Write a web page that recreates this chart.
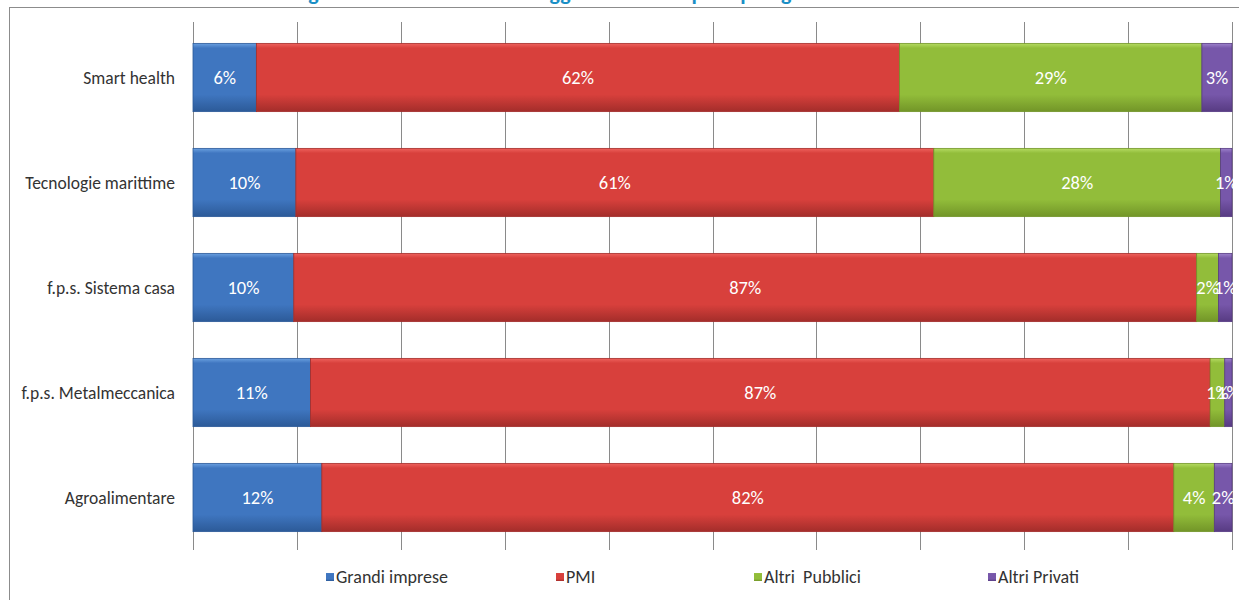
<!DOCTYPE html>
<html>
<head>
<meta charset="utf-8">
<script src="https://cdn.jsdelivr.net/npm/d3@7"></script>
<style>
  body { margin: 0; background: #fff; }
  svg { display: block; font-family: Carlito, "Open Sans", sans-serif; }
</style>
</head>
<body>
<div id="chart"></div>
<script>
// categories, top to bottom
const categories = [
  "Smart health",
  "Tecnologie marittime",
  "f.p.s. Sistema casa",
  "f.p.s. Metalmeccanica",
  "Agroalimentare",
];
const seriesNames = ["Grandi imprese", "PMI", "Altri  Pubblici", "Altri Privati"];
// shares in percent
const grandiImprese = [6.1, 9.9, 9.7, 11.3, 12.4];
const pmi = [61.9, 61.4, 86.9, 86.6, 82.0];
const altriPubblici = [29.1, 27.6, 2.1, 1.4, 3.9];
const altriPrivati = [2.9, 1.1, 1.3, 0.7, 1.7];
const xTicks = [0, 10, 20, 30, 40, 50, 60, 70, 80, 90, 100];

const colors = [
  ["#6aa0e0", "#3f76c0", "#2c5a98"],
  ["#ee625d", "#d8403c", "#a32d2a"],
  ["#b5db62", "#92bd3a", "#729528"],
  ["#9d82cc", "#7757aa", "#573b82"],
];

const width = 1239;
const height = 600;
const margin = { top: 25, right: 7, bottom: 50, left: 193 };

const rows = categories.map((c, i) => ({
  name: c,
  values: [grandiImprese[i], pmi[i], altriPubblici[i], altriPrivati[i]],
}));

const svg = d3
  .select("#chart")
  .append("svg")
  .attr("width", width)
  .attr("height", height)
  .attr("viewBox", [0, 0, width, height]);

// bevel-like gradients
const defs = svg.append("defs");
colors.forEach((c, i) => {
  const g = defs
    .append("linearGradient")
    .attr("id", "grad" + i)
    .attr("x1", 0).attr("y1", 0).attr("x2", 0).attr("y2", 1);
  g.append("stop").attr("offset", "0%").attr("stop-color", c[0]);
  g.append("stop").attr("offset", "7%").attr("stop-color", c[1]);
  g.append("stop").attr("offset", "75%").attr("stop-color", c[1]);
  g.append("stop").attr("offset", "100%").attr("stop-color", c[2]);
});

// title (cut off at the top in the original)
svg
  .append("text")
  .attr("x", 618)
  .attr("y", 0)
  .attr("text-anchor", "middle")
  .attr("fill", "#1a8fc6")
  .attr("font-weight", "bold")
  .attr("font-size", 22)
  .text("Figura 3.5 – Distribuzione soggetti ammessi per tipologia di beneficiario");

// outer frame
svg
  .append("rect")
  .attr("x", 9.5)
  .attr("y", 7.5)
  .attr("width", width)
  .attr("height", height)
  .attr("fill", "none")
  .attr("stroke", "#8c8c8c");

const x = d3
  .scaleLinear()
  .domain([0, 100])
  .range([margin.left, width - margin.right]);

const y = d3
  .scaleBand()
  .domain(categories)
  .range([margin.top, height - margin.bottom])
  .paddingInner(0.35)
  .paddingOuter(0.175);

// gridlines
svg
  .append("g")
  .selectAll("line")
  .data(xTicks)
  .join("line")
  .attr("x1", (d) => Math.round(x(d)) + 0.5)
  .attr("x2", (d) => Math.round(x(d)) + 0.5)
  .attr("y1", margin.top - 3)
  .attr("y2", height - margin.bottom)
  .attr("stroke", "#8a8a8a")
  .attr("stroke-width", 1);

// category labels
svg
  .append("g")
  .selectAll("text")
  .data(categories)
  .join("text")
  .attr("x", margin.left - 18)
  .attr("y", (d) => y(d) + y.bandwidth() / 2)
  .attr("dy", "0.35em")
  .attr("text-anchor", "end")
  .attr("font-size", 17.5)
  .attr("fill", "#333")
  .text((d) => d);

// stacked segments
const segs = [];
rows.forEach((r) => {
  let acc = 0;
  r.values.forEach((v, k) => {
    segs.push({ cat: r.name, k, x0: acc, x1: acc + v, v });
    acc += v;
  });
});

const bars = svg.append("g");
bars
  .selectAll("rect")
  .data(segs)
  .join("rect")
  .attr("x", (d) => x(d.x0))
  .attr("y", (d) => y(d.cat))
  .attr("width", (d) => x(d.x1) - x(d.x0))
  .attr("height", y.bandwidth())
  .attr("fill", (d) => `url(#grad${d.k})`)
  .attr("stroke", (d) => colors[d.k][2])
  .attr("stroke-width", 0.8);

bars
  .selectAll("text")
  .data(segs)
  .join("text")
  .attr("x", (d) => (x(d.x0) + x(d.x1)) / 2)
  .attr("y", (d) => y(d.cat) + y.bandwidth() / 2)
  .attr("dy", "0.35em")
  .attr("text-anchor", "middle")
  .attr("font-size", 18.5)
  .attr("fill", "#fff")
  .text((d) => Math.round(d.v) + "%");

// legend
const legendX = [326, 556, 754, 988];
const legend = svg
  .append("g")
  .selectAll("g")
  .data(seriesNames)
  .join("g")
  .attr("transform", (d, i) => `translate(${legendX[i]},577)`);
legend
  .append("rect")
  .attr("x", 0)
  .attr("y", -4)
  .attr("width", 8)
  .attr("height", 8)
  .attr("fill", (d, i) => `url(#grad${i})`);
legend
  .append("text")
  .attr("x", 10)
  .attr("dy", "0.35em")
  .attr("font-size", 18)
  .attr("fill", "#333")
  .style("white-space", "pre")
  .text((d) => d);
</script>
</body>
</html>
